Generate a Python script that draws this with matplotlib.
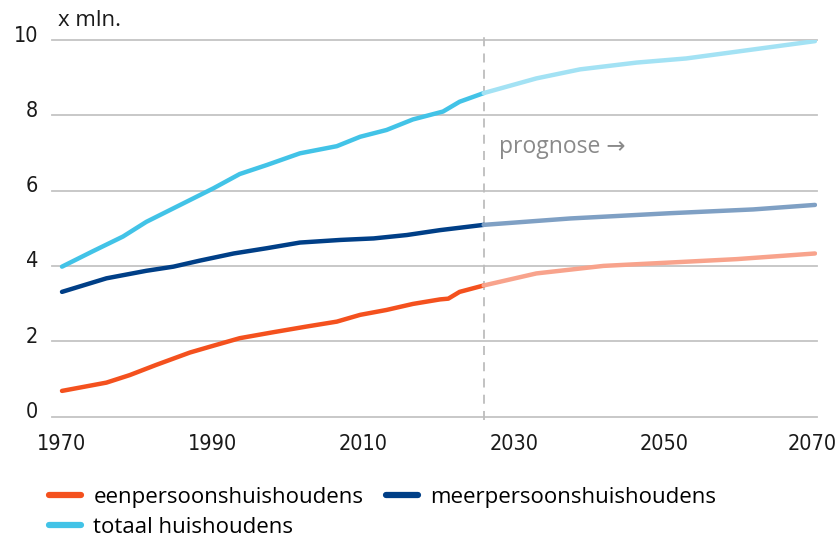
import matplotlib
matplotlib.use("Agg")
import matplotlib.pyplot as plt
import matplotlib.transforms as mtransforms
from matplotlib import font_manager
from matplotlib.font_manager import FontProperties

# ---- data (million households) ----
hist_years_total = [1970, 1974, 1978.1, 1981.2, 1984.8, 1987.5, 1990.1, 1993.6, 1997.2, 2001.6, 2006.5, 2009.6, 2013.1, 2016.6, 2020.6, 2022.8, 2026]
hist_total = [3.98, 4.38, 4.78, 5.17, 5.53, 5.80, 6.06, 6.44, 6.68, 6.99, 7.18, 7.43, 7.61, 7.89, 8.10, 8.36, 8.59]
proj_years_total = [2026, 2033, 2038.8, 2046.3, 2052.9, 2059.6, 2070]
proj_total = [8.59, 8.98, 9.22, 9.40, 9.51, 9.69, 9.97]

hist_years_meer = [1970, 1975.9, 1981.2, 1984.8, 1988.3, 1992.8, 1997.2, 2001.6, 2007, 2011.4, 2015.8, 2020.2, 2026]
hist_meer = [3.31, 3.67, 3.87, 3.98, 4.14, 4.33, 4.47, 4.62, 4.69, 4.73, 4.82, 4.95, 5.09]
proj_years_meer = [2026, 2037.5, 2050.8, 2061.8, 2070]
proj_meer = [5.09, 5.26, 5.40, 5.50, 5.62]

hist_years_een = [1970, 1975.9, 1979, 1982.5, 1987, 1990.1, 1993.6, 1998.1, 2002.5, 2006.5, 2009.6, 2013.1, 2016.6, 2020.2, 2021.3, 2022.8, 2026]
hist_een = [0.68, 0.90, 1.10, 1.37, 1.70, 1.88, 2.08, 2.24, 2.39, 2.52, 2.70, 2.83, 2.99, 3.11, 3.13, 3.31, 3.48]
proj_years_een = [2026, 2033, 2041.9, 2050.8, 2059.6, 2070]
proj_een = [3.48, 3.80, 4.00, 4.09, 4.18, 4.33]

series_labels = ["eenpersoonshuishoudens", "meerpersoonshuishoudens", "totaal huishoudens"]
x_ticks = [1970, 1990, 2010, 2030, 2050, 2070]
y_ticks = [0, 2, 4, 6, 8, 10]
prognosis_start = 2026

# ---- fonts ----
def find_narrow():
    for f in font_manager.fontManager.ttflist:
        if f.name == "Liberation Sans Narrow" and f.style == "normal" and f.weight in (400, "normal", "regular"):
            return FontProperties(fname=f.fname), 17.6
    for key in ("LiberationSansNarrow-Regular", "DejaVuSansCondensed.ttf", "RobotoCondensed-Regular"):
        for f in font_manager.fontManager.ttflist:
            if key in f.fname:
                return FontProperties(fname=f.fname), 15.5
    return FontProperties(family="Roboto"), 15.0

tick_fp, tick_size = find_narrow()
tick_fp.set_size(tick_size)
text_font = "Open Sans"

c_een, c_een_p = "#F4511E", "#F8A38C"
c_meer, c_meer_p = "#003F87", "#7FA0C4"
c_tot, c_tot_p = "#42C3E7", "#A3E2F4"

W, H = 838, 538
fig = plt.figure(figsize=(W / 100, H / 100), dpi=100)
ax = fig.add_axes([52 / W, 1 - 416.5 / H, (817 - 52) / W, (416.5 - 40) / H])

lw = 3.2
l_een, = ax.plot(hist_years_een, hist_een, color=c_een, lw=lw, solid_capstyle="round", zorder=3, label=series_labels[0])
ax.plot(proj_years_een, proj_een, color=c_een_p, lw=lw, solid_capstyle="round", zorder=3)
l_meer, = ax.plot(hist_years_meer, hist_meer, color=c_meer, lw=lw, solid_capstyle="round", zorder=3, label=series_labels[1])
ax.plot(proj_years_meer, proj_meer, color=c_meer_p, lw=lw, solid_capstyle="round", zorder=3)
l_tot, = ax.plot(hist_years_total, hist_total, color=c_tot, lw=lw, solid_capstyle="round", zorder=3, label=series_labels[2])
ax.plot(proj_years_total, proj_total, color=c_tot_p, lw=lw, solid_capstyle="round", zorder=3)

x_left = 1970 - 10 / 7.53
x_right = 2070 + 2 / 7.53
ax.set_xlim(x_left, x_right)
ax.set_ylim(0, 10)

for y in y_ticks:
    ax.axhline(y, color="#C4C4C4", lw=1.3, zorder=1, clip_on=False)

ax.plot([prognosis_start, prognosis_start], [-0.1, 10.25], color="#BDBDBD", lw=1.3,
        ls=(0, (5, 4)), zorder=2, clip_on=False)

for s in ax.spines.values():
    s.set_visible(False)
ax.tick_params(length=0)
ax.set_xticks(x_ticks)
ax.set_xticklabels([str(t) for t in x_ticks], fontproperties=tick_fp, color="#1a1a1a")
ax.set_yticks(y_ticks)
ax.set_yticklabels([str(t) for t in y_ticks], fontproperties=tick_fp, color="#1a1a1a")
ax.tick_params(axis="x", pad=12.5)
ax.tick_params(axis="y", pad=10)
off = mtransforms.ScaledTranslation(0, 6.5 / 100, fig.dpi_scale_trans)
for lab in ax.get_yticklabels():
    lab.set_transform(lab.get_transform() + off)
last = ax.get_xticklabels()[-1]
last.set_transform(last.get_transform() + mtransforms.ScaledTranslation(-3 / 100, 0, fig.dpi_scale_trans))

fig.text(58 / W, 1 - 21 / H, "x mln.", fontsize=16, family=text_font, color="#1a1a1a", va="center", ha="left")
fig.text(499 / W, 1 - 147 / H, "prognose \u2192", fontsize=16.5, family=[text_font, "DejaVu Sans"],
         color="#8a8a8a", va="center", ha="left")

leg = fig.legend([l_een, l_tot, l_meer], [series_labels[0], series_labels[2], series_labels[1]],
                 loc="upper left", bbox_to_anchor=(49 / W, 1 - 487 / H), borderaxespad=0, borderpad=0,
                 ncol=2, frameon=False, handlelength=1.45, handletextpad=0.55, columnspacing=1.0,
                 labelspacing=0.4, prop={"family": text_font, "size": 16})
for line in leg.get_lines():
    line.set_linewidth(4.5)
    line.set_solid_capstyle("round")

fig.savefig("out.png", dpi=100)
